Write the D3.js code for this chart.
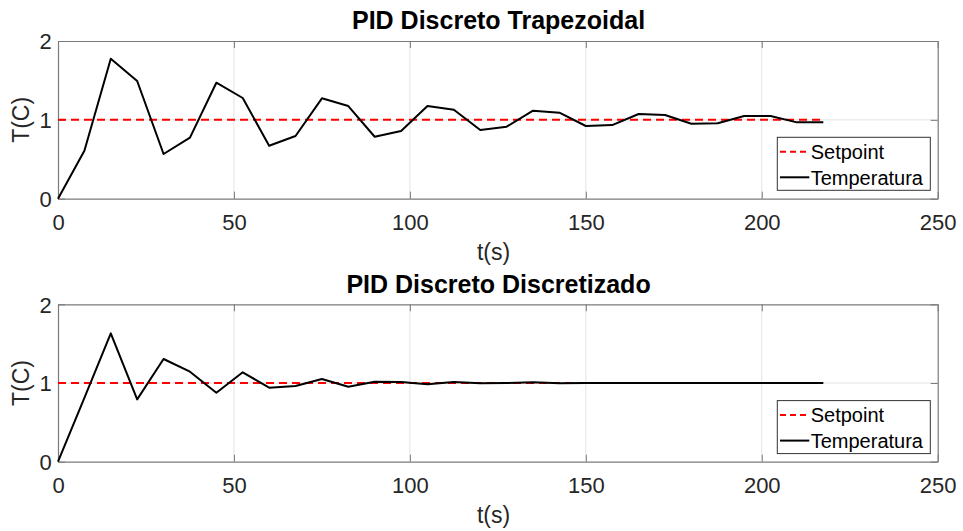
<!DOCTYPE html>
<html>
<head>
<meta charset="utf-8">
<script src="https://cdn.jsdelivr.net/npm/d3@7"></script>
<style>
  html, body { margin: 0; padding: 0; background: #fff; }
  svg { display: block; font-family: "Liberation Sans", Arial, Helvetica, sans-serif; }
</style>
</head>
<body>
<svg id="chart" width="963" height="531"></svg>
<script>
// ---- data ----
const time = d3.range(30).map(i => i * 7.5); // sample instants 0..217.5 s (Ts = 7.5 s)
const setpoint = time.map(() => 1);
const tempTrapezoidal = [0, 0.609, 1.776, 1.493, 0.567, 0.774, 1.471, 1.277, 0.672, 0.795,
  1.273, 1.175, 0.786, 0.858, 1.175, 1.129, 0.871, 0.913, 1.116, 1.091,
  0.922, 0.934, 1.074, 1.061, 0.951, 0.956, 1.049, 1.049, 0.968, 0.968];
const tempDiscretizado = [0, 0.81, 1.631, 0.792, 1.305, 1.144, 0.877, 1.136, 0.941, 0.962,
  1.051, 0.953, 1.017, 1.013, 0.983, 1.013, 0.996, 1.0, 1.008, 0.997,
  0.999, 1.001, 1.0, 1.0, 1.0, 1.0, 1.0, 1.0, 1.0, 1.0];
const xTicks = [0, 50, 100, 150, 200, 250];
const yTicks = [0, 1, 2];
const titles = ["PID Discreto Trapezoidal", "PID Discreto Discretizado"];
const legendLabels = ["Setpoint", "Temperatura"];
const xLabel = "t(s)";
const yLabel = "T(C)";

const svg = d3.select("#chart");
const panels = [
  { top: 41, bottom: 198.7, values: tempTrapezoidal, title: titles[0] },
  { top: 304.3, bottom: 461.7, values: tempDiscretizado, title: titles[1] }
];
const left = 58, right = 937.7;
const textColor = "#262626";
const axisColor = "#7a7a7a";

panels.forEach(p => {
  const x = d3.scaleLinear().domain([0, 250]).range([left, right]);
  const y = d3.scaleLinear().domain([0, 2]).range([p.bottom, p.top]);
  const g = svg.append("g");

  // grid
  g.append("g").selectAll("line").data(xTicks.slice(1, -1)).join("line")
    .attr("x1", d => x(d)).attr("x2", d => x(d))
    .attr("y1", p.top).attr("y2", p.bottom)
    .attr("stroke", "#e3e3e3").attr("stroke-width", 1);
  g.append("g").selectAll("line").data(yTicks.slice(1, -1)).join("line")
    .attr("x1", left).attr("x2", right)
    .attr("y1", d => y(d)).attr("y2", d => y(d))
    .attr("stroke", "#e3e3e3").attr("stroke-width", 1);

  // axes (bottom / left with inward ticks)
  const xAxis = d3.axisBottom(x).tickValues(xTicks).tickSizeInner(-7).tickSizeOuter(0)
    .tickPadding(16).tickFormat(d3.format("d"));
  const yAxis = d3.axisLeft(y).tickValues(yTicks).tickSizeInner(-7).tickSizeOuter(0)
    .tickPadding(6.3).tickFormat(d3.format("d"));
  const gx = g.append("g").attr("transform", `translate(0,${p.bottom})`).call(xAxis);
  const gy = g.append("g").attr("transform", `translate(${left},0)`).call(yAxis);
  const gxt = g.append("g").attr("transform", `translate(0,${p.top})`)
    .call(d3.axisTop(x).tickValues(xTicks).tickSizeInner(-7).tickSizeOuter(0).tickFormat(""));
  const gyr = g.append("g").attr("transform", `translate(${right},0)`)
    .call(d3.axisRight(y).tickValues(yTicks).tickSizeInner(-7).tickSizeOuter(0).tickFormat(""));
  [gx, gy, gxt, gyr].forEach(a => {
    a.select(".domain").attr("stroke", axisColor).attr("stroke-width", 1.2);
    a.selectAll(".tick line").attr("stroke", axisColor).attr("stroke-width", 1);
    a.selectAll("text").attr("fill", textColor).attr("font-size", 22)
      .attr("font-family", "'Liberation Sans', Arial, sans-serif");
  });
  gy.selectAll("text").attr("dy", "0.36em");

  // lines
  const line = d3.line().x((d, i) => x(time[i])).y(d => y(d));
  g.append("path").datum(setpoint).attr("d", line)
    .attr("fill", "none").attr("stroke", "#ff0000").attr("stroke-width", 2)
    .attr("stroke-dasharray", "8,5");
  g.append("path").datum(p.values).attr("d", line)
    .attr("fill", "none").attr("stroke", "#000").attr("stroke-width", 2)
    .attr("stroke-linejoin", "round");

  // title
  g.append("text").attr("x", (left + right) / 2 + 0.7).attr("y", p.top - 11.7)
    .attr("text-anchor", "middle").attr("font-weight", "bold").attr("font-size", 25)
    .attr("fill", "#000").text(p.title);
  // axis labels
  g.append("text").attr("x", 493.5).attr("y", p.bottom + 60.8)
    .attr("text-anchor", "middle").attr("font-size", 23).attr("fill", textColor).text(xLabel);
  g.append("text").attr("transform", `translate(28.5,${(p.top + p.bottom) / 2}) rotate(-90)`)
    .attr("text-anchor", "middle").attr("font-size", 23).attr("fill", textColor).text(yLabel);

  // legend
  const lx = 777.3, lw = 153, ly = p.top + 96.3, lh = 53;
  const lg = g.append("g");
  lg.append("rect").attr("x", lx).attr("y", ly).attr("width", lw).attr("height", lh)
    .attr("fill", "#fff").attr("stroke", "#333").attr("stroke-width", 1);
  const items = [
    { label: legendLabels[0], color: "#ff0000", dash: "6,4" },
    { label: legendLabels[1], color: "#000", dash: null }
  ];
  items.forEach((it, i) => {
    const cy = ly + 14.4 + i * 25.6;
    lg.append("line").attr("x1", lx + 2.7).attr("x2", lx + 32).attr("y1", cy).attr("y2", cy)
      .attr("stroke", it.color).attr("stroke-width", 2)
      .attr("stroke-dasharray", it.dash);
    lg.append("text").attr("x", lx + 33.4).attr("y", cy).attr("dy", "0.36em")
      .attr("font-size", 20).attr("fill", "#000").text(it.label);
  });
});
</script>
</body>
</html>
